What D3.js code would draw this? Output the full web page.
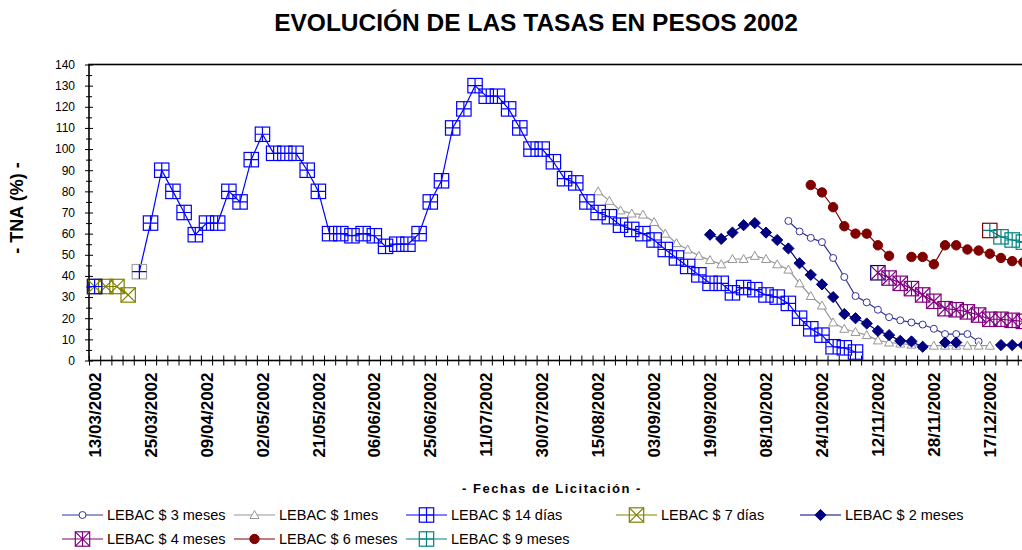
<!DOCTYPE html>
<html>
<head>
	<meta charset="utf-8">
	<title>Evolución de las tasas en pesos 2002</title>
	<script src="https://cdn.jsdelivr.net/npm/d3@7"></script>
	<style>
		body { margin: 0; background: #fff; }
		svg { display: block; font-family: Arial, 'Liberation Sans', sans-serif; }
	</style>
</head>
<body>
<svg width="1022" height="550"></svg>
<script>
	// fechas rotuladas en el eje: una cada 5 licitaciones
	var tickLabels = ['13/03/2002', '25/03/2002', '09/04/2002', '02/05/2002', '21/05/2002', '06/06/2002',
		'25/06/2002', '11/07/2002', '30/07/2002', '15/08/2002', '03/09/2002', '19/09/2002', '08/10/2002',
		'24/10/2002', '12/11/2002', '28/11/2002', '17/12/2002'];
	var labelEvery = 5;
	var nLicitaciones = 84;

	// TNA (%) por licitación; cada serie empieza en la licitación indicada, null = sin dato
	var start3m = 62;
	var tna3m = [66, 61, 58, 56, 48.5, 39.5, 30.5, 27.5, 24, 20.5, 19, 18, 17, 15, 12.5, 12.5, 12.5, 9];

	var start1m = 45;
	var tna1m = [80, 75.5, 71, 69.5, 69, 65.5, 60, 55.5, 52.5, 49.5, 47.5, 45.5, 48, 48, 49.5, 48, 45.5, 43,
		36.5, 30.5, 26, 18, 15, 13.5, 12, 9.5, 8.5, 8, 7.5, 7, 7, 7, 7, 7, 7, 7];

	var start14d = 0;
	var tna14d = [35, null, null, null, 42, 65, 90, 80, 70, 59.5, 65, 65, 80, 75, 95, 107, 98, 98, 98, 90, 80,
		60, 60, 59, 60, 59, 54, 55, 55, 60, 75, 85, 110, 119, 130, 125, 125, 119, 110, 100, 100, 94, 86, 84,
		75, 70, 68, 64, 62, 60, 57, 52.5, 48.5, 44.5, 40.5, 36.5, 36.5, 32, 34.5, 33.5, 31, 30, 27, 20, 15,
		12, 6.5, 6, 4];

	var start7d = 0;
	var tna7d = [35, 35, 35, 31];

	var start2m = 55;
	var tna2m = [59.5, 57.5, 60.5, 64, 65, 60.5, 57, 53, 46, 40.5, 36, 30, 22, 20, 17.5, 14, 12, 9.3, 9, 6.5,
		null, 8.5, 8.5, null, null, null, 7.3, 7.3, 7.3];

	var start4m = 70;
	var tna4m = [41.5, 39, 36.5, 34, 31, 28, 24.5, 24, 23, 21.5, 19.5, 19.5, 19, 18.5];

	var start6m = 64;
	var tna6m = [83, 79.5, 72.5, 63.5, 60, 60, 54.5, 49.5, null, 49, 49, 45.5, 54.5, 54.5, 52.5, 52, 50.5,
		48.5, 47, 46.5];

	var start9m = 80;
	var tna9m = [61.5, 58.5, 57, 56];

	var series = [
		{ name: 'LEBAC $ 3 meses', start: start3m, values: tna3m, color: '#333399', marker: 'circleOpen' },
		{ name: 'LEBAC $ 1mes', start: start1m, values: tna1m, color: '#969696', marker: 'triangle' },
		{ name: 'LEBAC $ 7 días', start: start7d, values: tna7d, color: '#808000', marker: 'squareX' },
		{ name: 'LEBAC $ 14 días', start: start14d, values: tna14d, color: '#0000ff', marker: 'squarePlus', odd: { 4: '#a0a0a0' } },
		{ name: 'LEBAC $ 2 meses', start: start2m, values: tna2m, color: '#000080', marker: 'diamond' },
		{ name: 'LEBAC $ 4 meses', start: start4m, values: tna4m, color: '#800080', marker: 'squareStar', odd: { 70: '#000080' } },
		{ name: 'LEBAC $ 6 meses', start: start6m, values: tna6m, color: '#800000', marker: 'circle' },
		{ name: 'LEBAC $ 9 meses', start: start9m, values: tna9m, color: '#008080', marker: 'squarePlus', odd: { 80: '#800000' } }
	];

	// orden de la leyenda, fila por fila
	var legendRows = [
		['LEBAC $ 3 meses', 'LEBAC $ 1mes', 'LEBAC $ 14 días', 'LEBAC $ 7 días', 'LEBAC $ 2 meses'],
		['LEBAC $ 4 meses', 'LEBAC $ 6 meses', 'LEBAC $ 9 meses']
	];
	var legendCols = [62, 234, 406, 616, 800];

	var svg = d3.select('svg');
	var plotLeft = 89, plotTop = 64.5, plotBottom = 360.5, bw = 11.19;
	var plotRight = plotLeft + nLicitaciones * bw;

	var x = d3.scaleBand().domain(d3.range(nLicitaciones)).range([plotLeft, plotRight]);
	var xEdge = d3.scaleLinear().domain([0, nLicitaciones]).range([plotLeft, plotRight]);
	var y = d3.scaleLinear().domain([0, 140]).range([plotBottom, plotTop]);

	function cx(i) { return x(i) + x.bandwidth() / 2; }

	// titulos
	svg.append('text')
		.attr('x', 536).attr('y', 31)
		.attr('text-anchor', 'middle')
		.style('font-size', '24.5px').style('font-weight', 'bold')
		.text('EVOLUCIÓN DE LAS TASAS EN PESOS 2002');

	svg.append('text')
		.attr('transform', 'translate(23,208) rotate(-90)')
		.attr('text-anchor', 'middle')
		.style('font-size', '18px').style('font-weight', 'bold')
		.text('- TNA (%) -');

	svg.append('text')
		.attr('x', 552).attr('y', 493)
		.attr('text-anchor', 'middle')
		.style('font-size', '13px').style('font-weight', 'bold').style('letter-spacing', '1.5px')
		.text('- Fechas de Licitación -');

	// marco del area de trazado
	svg.append('rect')
		.attr('x', plotLeft).attr('y', plotTop)
		.attr('width', plotRight - plotLeft).attr('height', plotBottom - plotTop)
		.attr('fill', 'none').attr('stroke', '#000').attr('stroke-width', 1.6);

	// eje y
	var yAxis = svg.append('g')
		.attr('transform', 'translate(' + plotLeft + ',0)')
		.call(d3.axisLeft(y).tickValues(d3.range(0, 141, 10)).tickSize(4).tickPadding(10));
	yAxis.select('.domain').remove();
	yAxis.selectAll('line').attr('x1', 4);
	yAxis.selectAll('text').style('font-size', '12px').style('font-family', 'inherit');

	var yMinor = svg.append('g')
		.attr('transform', 'translate(' + plotLeft + ',0)')
		.call(d3.axisLeft(y).tickValues(d3.range(5, 140, 10)).tickSize(3).tickFormat(''));
	yMinor.select('.domain').remove();
	yMinor.selectAll('line').attr('x1', 3);

	// eje x: marcas entre licitaciones y fechas rotadas
	var xTicks = svg.append('g')
		.attr('transform', 'translate(0,' + plotBottom + ')')
		.call(d3.axisBottom(xEdge).tickValues(d3.range(0, nLicitaciones + 1)).tickSize(5).tickFormat(''));
	xTicks.select('.domain').remove();
	xTicks.selectAll('line').attr('y1', -5);

	var xLabels = svg.append('g')
		.attr('transform', 'translate(0,' + plotBottom + ')')
		.call(d3.axisBottom(x)
			.tickValues(d3.range(0, tickLabels.length * labelEvery, labelEvery))
			.tickSize(0)
			.tickFormat(function(d) { return tickLabels[d / labelEvery]; }));
	xLabels.select('.domain').remove();
	xLabels.selectAll('text')
		.attr('transform', 'translate(0,12) rotate(-90)')
		.attr('text-anchor', 'end')
		.attr('x', 0).attr('y', 0).attr('dy', '0.36em')
		.style('font-size', '17px').style('font-weight', 'bold').style('font-family', 'inherit');

	// marcadores
	function drawMarker(g, type, color, stroke) {
		if (type === 'circleOpen') {
			g.append('circle').attr('r', 3.5).attr('fill', '#fff').attr('stroke', stroke).attr('stroke-width', 1);
		} else if (type === 'circle') {
			g.append('circle').attr('r', 4.7).attr('fill', color).attr('stroke', stroke);
		} else if (type === 'triangle') {
			g.append('path').attr('d', 'M0,-4.5L4.5,3.5L-4.5,3.5Z').attr('fill', '#fff').attr('stroke', stroke);
		} else if (type === 'diamond') {
			g.append('path').attr('d', 'M0,-5.6L5.6,0L0,5.6L-5.6,0Z').attr('fill', color).attr('stroke', stroke);
		} else {
			var h = 7.2;
			g.append('rect').attr('x', -h).attr('y', -h).attr('width', 2 * h).attr('height', 2 * h)
				.attr('fill', 'none').attr('stroke', stroke).attr('stroke-width', 1.2);
			var p = d3.path();
			if (type === 'squarePlus' || type === 'squareStar') {
				p.moveTo(0, -h); p.lineTo(0, h);
			}
			if (type === 'squarePlus') {
				p.moveTo(-h, 0); p.lineTo(h, 0);
			}
			if (type === 'squareX' || type === 'squareStar') {
				p.moveTo(-h, -h); p.lineTo(h, h);
				p.moveTo(-h, h); p.lineTo(h, -h);
			}
			g.append('path').attr('d', p.toString()).attr('stroke', color).attr('stroke-width', 1.2).attr('fill', 'none');
		}
	}

	var line = d3.line()
		.defined(function(d) { return d.v !== null; })
		.x(function(d) { return cx(d.i); })
		.y(function(d) { return y(d.v); });

	var plot = svg.append('g');

	series.forEach(function(s) {
		var pts = s.values.map(function(v, k) { return { i: s.start + k, v: v }; });
		var g = plot.append('g');
		g.append('path')
			.datum(pts)
			.attr('d', line)
			.attr('fill', 'none')
			.attr('stroke', s.color)
			.attr('stroke-width', 1.2);
		g.selectAll('g.mk')
			.data(pts.filter(function(d) { return d.v !== null; }))
			.enter()
			.append('g')
			.attr('class', 'mk')
			.attr('transform', function(d) { return 'translate(' + cx(d.i) + ',' + y(d.v) + ')'; })
			.each(function(d) {
				var stroke = (s.odd && s.odd[d.i]) ? s.odd[d.i] : s.color;
				drawMarker(d3.select(this), s.marker, s.color, stroke);
			});
	});

	// leyenda
	var legend = svg.append('g');
	legendRows.forEach(function(row, r) {
		row.forEach(function(name, c) {
			var s = series.filter(function(d) { return d.name === name; })[0];
			var lx = legendCols[c], ly = 515 + r * 24;
			var item = legend.append('g');
			item.append('line')
				.attr('x1', lx).attr('x2', lx + 41).attr('y1', ly).attr('y2', ly)
				.attr('stroke', s.color).attr('stroke-width', 1.2);
			var m = item.append('g').attr('transform', 'translate(' + (lx + 20.5) + ',' + ly + ')');
			drawMarker(m, s.marker, s.color, s.color);
			item.append('text')
				.attr('x', lx + 45).attr('y', ly + 5)
				.style('font-size', '14.5px')
				.text(name);
		});
	});
</script>
</body>
</html>
